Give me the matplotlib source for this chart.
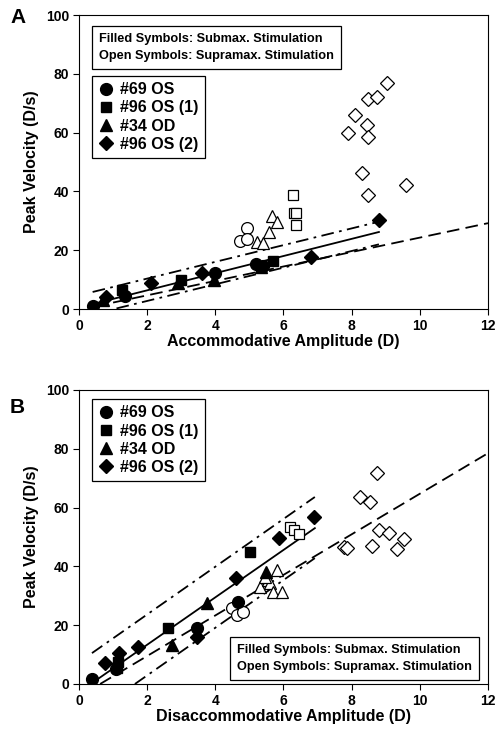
import matplotlib
matplotlib.use('Agg')
import matplotlib.pyplot as plt
from matplotlib.lines import Line2D

plt.rcParams['font.family'] = ['Liberation Sans', 'DejaVu Sans']
plt.rcParams['font.weight'] = 'bold'

# Panel A: accommodative amplitude (D) vs peak velocity (D/s)
a_circ_f_x = [0.4, 1.35, 4.0, 5.2, 5.4]
a_circ_f_y = [1.0, 4.5, 12.2, 15.2, 14.8]
a_sq_f_x = [1.25, 3.0, 5.7]
a_sq_f_y = [6.5, 10.0, 16.3]
a_tri_f_x = [0.7, 2.9, 3.95, 5.35]
a_tri_f_y = [3.0, 8.8, 9.8, 14.2]
a_dia_f_x = [0.8, 2.1, 3.6, 6.8, 8.8]
a_dia_f_y = [4.0, 8.9, 12.2, 17.7, 30.3]

a_circ_o_x = [4.72, 4.93, 4.93]
a_circ_o_y = [23.1, 27.5, 23.8]
a_tri_o_x = [5.22, 5.4, 5.57, 5.67, 5.8]
a_tri_o_y = [22.8, 22.4, 26.2, 31.6, 29.6]
a_sq_o_x = [6.28, 6.3, 6.37, 6.37]
a_sq_o_y = [38.8, 32.5, 32.7, 28.6]
a_dia_o_x = [9.04, 8.48, 8.74, 8.1, 8.45, 7.9, 8.48, 8.3, 8.48, 9.6]
a_dia_o_y = [76.9, 71.4, 72.1, 66.0, 62.6, 60.0, 58.5, 46.3, 38.8, 42.2]

# fit lines (end points) for panel A
a_fit_x, a_fit_y = [0.3, 8.8], [1.4, 26.2]
a_hi_x, a_hi_y = [0.4, 8.8], [5.8, 29.7]
a_lo_x, a_lo_y = [1.1, 8.8], [0.2, 22.0]
a_all_x, a_all_y = [1.0, 12.0], [2.2, 29.2]

# Panel B: disaccommodative amplitude (D) vs peak velocity (D/s)
b_circ_f_x = [0.38, 1.1, 3.46, 4.67]
b_circ_f_y = [1.6, 5.0, 19.0, 28.0]
b_sq_f_x = [1.12, 1.15, 2.6, 5.02]
b_sq_f_y = [5.5, 7.5, 19.0, 45.0]
b_tri_f_x = [2.73, 3.76, 5.48]
b_tri_f_y = [13.3, 27.6, 38.0]
b_dia_f_x = [0.76, 1.18, 1.73, 3.46, 4.6, 5.87, 6.9]
b_dia_f_y = [7.1, 10.5, 12.7, 16.0, 36.0, 49.6, 56.8]

b_circ_o_x = [4.48, 4.65, 4.8]
b_circ_o_y = [26.0, 23.5, 24.5]
b_tri_o_x = [5.8, 5.3, 5.55, 5.6, 5.7, 5.95, 5.45]
b_tri_o_y = [38.8, 33.0, 35.5, 34.5, 31.3, 31.3, 36.5]
b_sq_o_x = [6.2, 6.3, 6.45]
b_sq_o_y = [53.3, 52.3, 51.0]
b_dia_o_x = [8.74, 8.24, 8.54, 8.8, 9.1, 9.54, 7.78, 7.85, 8.6, 9.33]
b_dia_o_y = [71.8, 63.6, 61.9, 52.4, 51.3, 49.3, 46.6, 46.3, 46.9, 45.9]

b_fit_x, b_fit_y = [0.38, 6.92], [0.3, 53.0]
b_hi_x, b_hi_y = [0.38, 6.92], [10.5, 63.6]
b_lo_x, b_lo_y = [1.64, 6.92], [0.0, 42.8]
b_all_x, b_all_y = [0.62, 12.0], [0.0, 78.5]

legend_labels = ['#69 OS', '#96 OS (1)', '#34 OD', '#96 OS (2)']
note = 'Filled Symbols: Submax. Stimulation\nOpen Symbols: Supramax. Stimulation'

fig = plt.figure(figsize=(5.01, 7.40), dpi=100)
axA = fig.add_axes([0.1577, 0.5824, 0.8163, 0.3973])
axB = fig.add_axes([0.1577, 0.0757, 0.8163, 0.3973])

ms = 8.5
dash = (0, (7, 3.5))
dashdot = (0, (7, 3, 1.5, 3))
markers = ['o', 's', '^', 'D']
sizes = [ms, ms - 1, ms, ms - 1.5]


def draw_panel(ax, filled, opened, fit, hi, lo, allfit, xlabel):
    for (x, y), m, s in zip(opened, markers, sizes):
        ax.plot(x, y, m, ms=s, mfc='white', mec='black', mew=0.9, ls='none', zorder=3)
    for (x, y), m, s in zip(filled, markers, sizes):
        ax.plot(x, y, m, ms=s, mfc='black', mec='black', ls='none', zorder=4)
    ax.plot(*fit, color='black', lw=1.3, zorder=2)
    ax.plot(*hi, color='black', lw=1.3, ls=dashdot, zorder=2)
    ax.plot(*lo, color='black', lw=1.3, ls=dashdot, zorder=2)
    ax.plot(*allfit, color='black', lw=1.3, ls=dash, zorder=2)

    ax.set_xlim(0, 12)
    ax.set_ylim(0, 100)
    ax.set_xticks(range(0, 13, 2))
    ax.set_yticks(range(0, 101, 20))
    ax.tick_params(direction='out', length=4, width=0.8, labelsize=10, pad=3)
    for sp in ax.spines.values():
        sp.set_linewidth(0.8)
    for lab in ax.get_xticklabels() + ax.get_yticklabels():
        lab.set_fontweight('bold')
    ax.set_xlabel(xlabel, fontsize=11.5, fontweight='bold', labelpad=1)
    ax.set_ylabel('Peak Velocity (D/s)', fontsize=11.5, fontweight='bold', labelpad=5)


def marker_legend(ax, y_top):
    handles = [Line2D([], [], marker=m, ms=s, color='black', ls='none')
               for m, s in zip(markers, sizes)]
    leg = ax.legend(handles, legend_labels, loc='upper left',
                    bbox_to_anchor=(0.032, y_top), borderaxespad=0,
                    frameon=True, fancybox=False, edgecolor='black',
                    framealpha=1, handlelength=0.9, handletextpad=0.45,
                    labelspacing=0.2, borderpad=0.4,
                    prop={'size': 11.5, 'weight': 'bold'})
    leg.get_frame().set_linewidth(0.9)
    return leg


draw_panel(axA,
           [(a_circ_f_x, a_circ_f_y), (a_sq_f_x, a_sq_f_y), (a_tri_f_x, a_tri_f_y), (a_dia_f_x, a_dia_f_y)],
           [(a_circ_o_x, a_circ_o_y), (a_sq_o_x, a_sq_o_y), (a_tri_o_x, a_tri_o_y), (a_dia_o_x, a_dia_o_y)],
           (a_fit_x, a_fit_y), (a_hi_x, a_hi_y), (a_lo_x, a_lo_y), (a_all_x, a_all_y),
           'Accommodative Amplitude (D)')
draw_panel(axB,
           [(b_circ_f_x, b_circ_f_y), (b_sq_f_x, b_sq_f_y), (b_tri_f_x, b_tri_f_y), (b_dia_f_x, b_dia_f_y)],
           [(b_circ_o_x, b_circ_o_y), (b_sq_o_x, b_sq_o_y), (b_tri_o_x, b_tri_o_y), (b_dia_o_x, b_dia_o_y)],
           (b_fit_x, b_fit_y), (b_hi_x, b_hi_y), (b_lo_x, b_lo_y), (b_all_x, b_all_y),
           'Disaccommodative Amplitude (D)')

marker_legend(axA, 0.793)
marker_legend(axB, 0.969)

box = dict(boxstyle='square,pad=0.55', fc='white', ec='black', lw=0.9)
axA.text(0.05, 0.94, note, transform=axA.transAxes, ha='left', va='top',
         fontsize=9.2, fontweight='bold', linespacing=1.6, bbox=box, zorder=5)
axB.text(0.387, 0.037, note, transform=axB.transAxes, ha='left', va='bottom',
         fontsize=9.2, fontweight='bold', linespacing=1.6, bbox=box, zorder=5)

fig.text(0.02, 0.977, 'A', fontsize=15, fontweight='bold', ha='left', va='center')
fig.text(0.02, 0.449, 'B', fontsize=15, fontweight='bold', ha='left', va='center')

fig.savefig('out.png', dpi=100)
